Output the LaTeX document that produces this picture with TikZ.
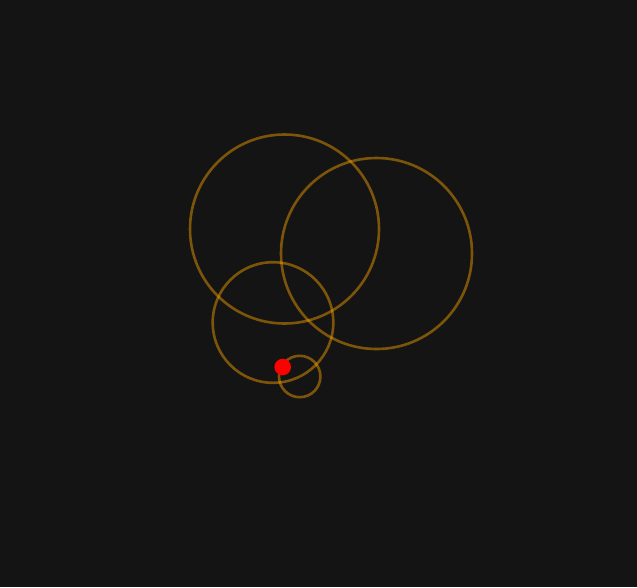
\documentclass[tikz,border=0pt]{standalone}
\definecolor{bgdark}{RGB}{20,20,20}
\definecolor{ringorange}{RGB}{255,165,0}
\begin{document}
\begin{tikzpicture}[
    x=1pt, y=-1pt,
    ring/.style={draw=ringorange, draw opacity=0.45, line width=2.6pt},
    marker/.style={fill=red},
  ]
  \fill[bgdark] (0,0) rectangle (637,587);
  \useasboundingbox (0,0) rectangle (637,587);
  % rings
  \draw[ring] (284.5,229) circle[radius=94.5];
  \draw[ring] (376.5,253.5) circle[radius=95.5];
  \draw[ring] (273,322.5) circle[radius=60.3];
  \draw[ring] (299.7,376.5) circle[radius=20.7];
  % red dot
  \fill[marker] (282.7,367) circle[radius=8.3];
\end{tikzpicture}
\end{document}
